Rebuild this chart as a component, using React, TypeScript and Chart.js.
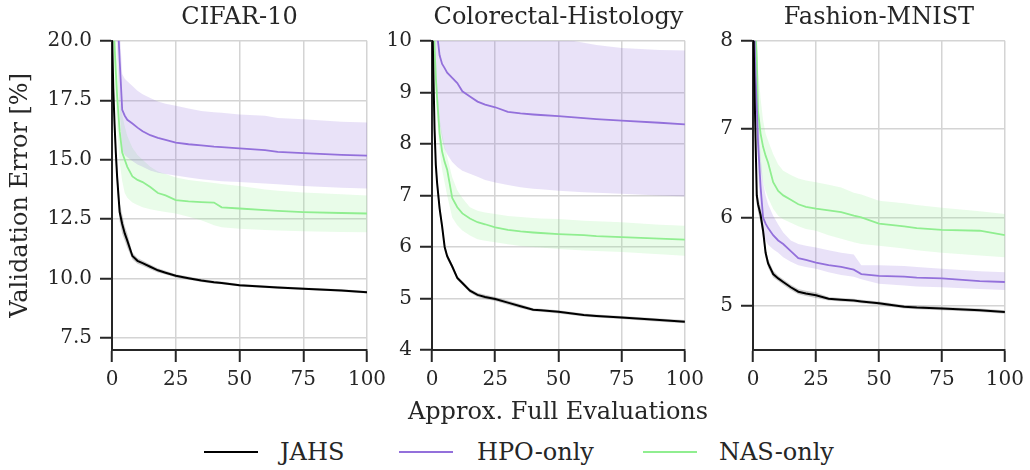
import React, { useEffect, useRef } from 'react';
import { Chart, registerables } from 'chart.js';

Chart.register(...registerables);

// ---------- data ----------
const X = [0, 0.5, 1, 1.5, 2, 3, 4, 5, 6, 8, 10, 12, 15, 18, 21, 25, 30, 35, 40, 43, 50, 60, 65, 75, 90, 100];
const X_TICKS = [0, 25, 50, 75, 100];

// CIFAR-10
const C_JAHS = [20.5, 18.0, 16.5, 15.3, 14.3, 12.8, 12.3, 11.9, 11.6, 10.95, 10.75, 10.65, 10.5, 10.35, 10.25, 10.12, 10.02, 9.92, 9.85, 9.82, 9.72, 9.66, 9.63, 9.58, 9.5, 9.43];
const C_JAHS_LO = [20.2, 17.6, 16.0, 14.8, 13.8, 12.4, 11.9, 11.6, 11.3, 10.8, 10.63, 10.54, 10.4, 10.26, 10.17, 10.05, 9.95, 9.86, 9.79, 9.76, 9.67, 9.61, 9.58, 9.53, 9.45, 9.38];
const C_JAHS_HI = [20.8, 18.4, 17.0, 15.8, 14.8, 13.2, 12.7, 12.2, 11.9, 11.1, 10.87, 10.76, 10.6, 10.44, 10.33, 10.19, 10.09, 9.98, 9.91, 9.88, 9.77, 9.71, 9.68, 9.63, 9.55, 9.48];
const C_HPO = [24, 24, 24, 23.5, 21.5, 19.2, 17.1, 16.85, 16.68, 16.52, 16.35, 16.2, 16.03, 15.92, 15.83, 15.72, 15.65, 15.6, 15.55, 15.53, 15.48, 15.4, 15.33, 15.28, 15.2, 15.17];
const C_HPO_LO = [22, 22, 22, 21, 19.5, 17, 15.4, 15.2, 15.1, 14.95, 14.8, 14.7, 14.55, 14.45, 14.4, 14.34, 14.25, 14.18, 14.13, 14.1, 14.06, 14.0, 13.97, 13.9, 13.82, 13.79];
const C_HPO_HI = [26, 26, 26, 25, 23, 20.5, 18.6, 18.4, 18.3, 18.1, 17.9, 17.75, 17.6, 17.45, 17.35, 17.27, 17.15, 17.05, 17.0, 16.97, 16.9, 16.85, 16.75, 16.7, 16.6, 16.56];
const C_NAS = [22, 21, 19.8, 18.7, 17.7, 16.2, 15.3, 15.0, 14.7, 14.3, 14.15, 14.06, 13.85, 13.6, 13.5, 13.3, 13.25, 13.22, 13.2, 13.0, 12.95, 12.88, 12.85, 12.8, 12.76, 12.74];
const C_NAS_LO = [21, 20, 18.6, 17.4, 16.4, 14.9, 14.1, 13.6, 13.4, 13.2, 13.1, 13.0, 12.92, 12.85, 12.8, 12.74, 12.6, 12.45, 12.25, 12.16, 12.1, 12.05, 12.02, 11.99, 11.96, 11.95];
const C_NAS_HI = [23, 22, 21, 20, 19, 17.6, 16.9, 16.4, 16.0, 15.5, 15.2, 15.0, 14.7, 14.5, 14.4, 14.25, 14.15, 14.08, 14.02, 13.98, 13.9, 13.75, 13.7, 13.62, 13.55, 13.5];
const C_Y_TICKS = [7.5, 10, 12.5, 15, 17.5, 20];

// Colorectal-Histology
const H_JAHS = [10.8, 9.5, 8.3, 7.6, 7.25, 6.75, 6.4, 6.0, 5.82, 5.62, 5.4, 5.3, 5.15, 5.07, 5.03, 4.99, 4.92, 4.85, 4.78, 4.77, 4.74, 4.68, 4.66, 4.63, 4.58, 4.55];
const H_JAHS_LO = [10.6, 9.3, 8.1, 7.45, 7.1, 6.62, 6.3, 5.92, 5.76, 5.57, 5.36, 5.26, 5.11, 5.03, 4.99, 4.95, 4.88, 4.81, 4.75, 4.74, 4.71, 4.65, 4.63, 4.6, 4.55, 4.52];
const H_JAHS_HI = [11.0, 9.7, 8.5, 7.75, 7.4, 6.88, 6.5, 6.08, 5.88, 5.67, 5.44, 5.34, 5.19, 5.11, 5.07, 5.03, 4.96, 4.89, 4.81, 4.8, 4.77, 4.71, 4.69, 4.66, 4.61, 4.58];
const H_HPO = [12, 12, 11.5, 10.8, 10.15, 9.72, 9.55, 9.47, 9.38, 9.28, 9.18, 9.02, 8.92, 8.82, 8.76, 8.71, 8.62, 8.59, 8.57, 8.56, 8.54, 8.5, 8.48, 8.45, 8.41, 8.38];
const H_HPO_LO = [11, 10.5, 10, 9.5, 9.0, 8.4, 8.1, 7.9, 7.8, 7.65, 7.55, 7.48, 7.42, 7.36, 7.3, 7.25, 7.2, 7.16, 7.13, 7.12, 7.09, 7.06, 7.05, 7.03, 7.0, 6.98];
const H_HPO_HI = [13, 13, 13, 13, 13, 13, 13, 13, 12, 11.5, 11.2, 11.0, 10.8, 10.6, 10.5, 10.4, 10.3, 10.22, 10.15, 10.12, 10.05, 9.96, 9.92, 9.86, 9.82, 9.81];
const H_NAS = [11.5, 10.8, 9.9, 9.3, 8.9, 8.2, 7.85, 7.65, 7.5, 6.95, 6.77, 6.65, 6.55, 6.48, 6.44, 6.38, 6.33, 6.3, 6.28, 6.27, 6.25, 6.23, 6.21, 6.19, 6.16, 6.14];
const H_NAS_LO = [11, 10.3, 9.5, 8.9, 8.5, 7.85, 7.5, 7.25, 7.0, 6.57, 6.42, 6.32, 6.22, 6.15, 6.12, 6.09, 6.05, 6.02, 6.0, 5.99, 5.96, 5.93, 5.92, 5.9, 5.86, 5.83];
const H_NAS_HI = [12, 11.2, 10.3, 9.7, 9.2, 8.5, 8.2, 7.95, 7.75, 7.35, 7.1, 6.95, 6.77, 6.7, 6.67, 6.64, 6.6, 6.58, 6.56, 6.55, 6.54, 6.51, 6.5, 6.48, 6.43, 6.41];
const H_Y_TICKS = [4, 5, 6, 7, 8, 9, 10];

// Fashion-MNIST
const F_JAHS = [8.5, 7.6, 6.9, 6.25, 6.15, 6.03, 5.85, 5.6, 5.48, 5.36, 5.31, 5.27, 5.21, 5.16, 5.14, 5.12, 5.08, 5.07, 5.06, 5.05, 5.03, 4.99, 4.98, 4.97, 4.95, 4.93];
const F_JAHS_LO = [8.3, 7.4, 6.75, 6.15, 6.06, 5.95, 5.77, 5.54, 5.43, 5.32, 5.28, 5.24, 5.18, 5.13, 5.11, 5.09, 5.06, 5.05, 5.04, 5.03, 5.01, 4.97, 4.96, 4.95, 4.93, 4.91];
const F_JAHS_HI = [8.7, 7.8, 7.05, 6.35, 6.24, 6.11, 5.93, 5.66, 5.53, 5.4, 5.34, 5.3, 5.24, 5.19, 5.17, 5.15, 5.1, 5.09, 5.08, 5.07, 5.05, 5.01, 5.0, 4.99, 4.97, 4.95];
const F_HPO = [8.8, 8.2, 7.6, 7.25, 6.85, 6.35, 6.0, 5.93, 5.88, 5.8, 5.74, 5.7, 5.62, 5.54, 5.52, 5.49, 5.46, 5.44, 5.41, 5.36, 5.34, 5.33, 5.32, 5.31, 5.28, 5.27];
const F_HPO_LO = [8.4, 7.8, 7.2, 6.9, 6.5, 6.05, 5.8, 5.74, 5.69, 5.64, 5.6, 5.55, 5.5, 5.46, 5.44, 5.42, 5.38, 5.35, 5.33, 5.3, 5.25, 5.23, 5.22, 5.21, 5.19, 5.18];
const F_HPO_HI = [9.2, 8.6, 8.0, 7.6, 7.2, 6.7, 6.4, 6.25, 6.15, 6.02, 5.92, 5.83, 5.74, 5.7, 5.68, 5.66, 5.63, 5.6, 5.58, 5.46, 5.46, 5.45, 5.44, 5.42, 5.39, 5.38];
const F_NAS = [9.0, 8.6, 8.1, 7.8, 7.2, 6.95, 6.8, 6.7, 6.62, 6.4, 6.3, 6.25, 6.2, 6.15, 6.12, 6.1, 6.08, 6.06, 6.02, 6.0, 5.93, 5.9, 5.88, 5.86, 5.85, 5.8];
const F_NAS_LO = [8.7, 8.2, 7.6, 7.3, 6.8, 6.55, 6.4, 6.3, 6.22, 6.1, 6.02, 5.98, 5.94, 5.9, 5.87, 5.85, 5.8, 5.76, 5.72, 5.7, 5.68, 5.65, 5.63, 5.6, 5.57, 5.55];
const F_NAS_HI = [9.3, 9.0, 8.6, 8.2, 7.7, 7.35, 7.1, 6.95, 6.87, 6.72, 6.6, 6.53, 6.48, 6.44, 6.42, 6.4, 6.37, 6.34, 6.28, 6.26, 6.19, 6.16, 6.14, 6.11, 6.07, 6.04];
const F_Y_TICKS = [5, 6, 7, 8];

const SERIES_NAMES = ['JAHS', 'HPO-only', 'NAS-only'];

// ---------- styles ----------
const FONT = "'DejaVu Serif', serif";
const INK = '#262626';
const GRID = '#d4d4d4';
const LINE_COLORS = ['#000000', '#9370db', '#90ee90'];
const BAND_COLORS = ['rgba(0,0,0,0.2)', 'rgba(147,112,219,0.2)', 'rgba(144,238,144,0.2)'];

type Series = { mean: number[]; lo: number[]; hi: number[] };
type PanelCfg = {
  title: string;
  left: number;
  width: number;
  yWidth: number;
  padRight: number;
  yMin: number;
  yMax: number;
  yTicks: number[];
  decimals: number;
  yTitle: boolean;
  series: Series[];
};

const PANELS: PanelCfg[] = [
  {
    title: 'CIFAR-10', left: 0, width: 395, yWidth: 112, padRight: 28,
    yMin: 7, yMax: 20, yTicks: C_Y_TICKS, decimals: 1, yTitle: true,
    series: [
      { mean: C_JAHS, lo: C_JAHS_LO, hi: C_JAHS_HI },
      { mean: C_HPO, lo: C_HPO_LO, hi: C_HPO_HI },
      { mean: C_NAS, lo: C_NAS_LO, hi: C_NAS_HI },
    ],
  },
  {
    title: 'Colorectal-Histology', left: 380, width: 330, yWidth: 52, padRight: 23,
    yMin: 4, yMax: 10, yTicks: H_Y_TICKS, decimals: 0, yTitle: false,
    series: [
      { mean: H_JAHS, lo: H_JAHS_LO, hi: H_JAHS_HI },
      { mean: H_HPO, lo: H_HPO_LO, hi: H_HPO_HI },
      { mean: H_NAS, lo: H_NAS_LO, hi: H_NAS_HI },
    ],
  },
  {
    title: 'Fashion-MNIST', left: 700, width: 330, yWidth: 53, padRight: 22,
    yMin: 4.5, yMax: 8, yTicks: F_Y_TICKS, decimals: 0, yTitle: false,
    series: [
      { mean: F_JAHS, lo: F_JAHS_LO, hi: F_JAHS_HI },
      { mean: F_HPO, lo: F_HPO_LO, hi: F_HPO_HI },
      { mean: F_NAS, lo: F_NAS_LO, hi: F_NAS_HI },
    ],
  },
];

const pts = (ys: number[]) => X.map((x, i) => ({ x, y: ys[i] }));

function Panel({ cfg }: { cfg: PanelCfg }) {
  const ref = useRef<HTMLCanvasElement | null>(null);
  useEffect(() => {
    if (!ref.current) return;
    const datasets: any[] = [];
    cfg.series.forEach((s, i) => {
      datasets.push({
        label: SERIES_NAMES[i],
        data: pts(s.mean),
        borderColor: LINE_COLORS[i],
        borderWidth: i === 0 ? 2 : 1.8,
        pointRadius: 0,
        tension: 0,
        fill: false,
      });
    });
    cfg.series.forEach((s, i) => {
      datasets.push({
        label: SERIES_NAMES[i] + ' lo',
        data: pts(s.lo),
        borderColor: 'rgba(0,0,0,0)',
        borderWidth: 0,
        pointRadius: 0,
        fill: false,
      });
      datasets.push({
        label: SERIES_NAMES[i] + ' hi',
        data: pts(s.hi),
        borderColor: 'rgba(0,0,0,0)',
        borderWidth: 0,
        pointRadius: 0,
        backgroundColor: BAND_COLORS[i],
        fill: '-1',
      });
    });
    const chart = new Chart(ref.current, {
      type: 'line',
      data: { datasets },
      options: {
        animation: false,
        responsive: false,
        events: [],
        layout: { padding: { left: 0, right: cfg.padRight, top: 0, bottom: 0 } },
        plugins: {
          legend: { display: false },
          tooltip: { enabled: false },
          filler: { drawTime: 'beforeDatasetsDraw' },
          title: {
            display: true,
            text: cfg.title,
            fullSize: false,
            color: INK,
            font: { family: FONT, size: 24, weight: 'normal' },
            padding: { top: 3, bottom: 9 },
          },
        } as any,
        scales: {
          x: {
            type: 'linear',
            min: 0,
            max: 100,
            afterBuildTicks: (s: any) => { s.ticks = X_TICKS.map((v) => ({ value: v })); },
            afterFit: (s: any) => { s.height = 50; },
            ticks: { color: INK, font: { family: FONT, size: 20 }, padding: 6, maxRotation: 0 },
            grid: { color: GRID, lineWidth: 1.5, tickLength: 12, tickColor: INK, tickWidth: 2 },
            border: { color: INK, width: 2 },
          },
          y: {
            type: 'linear',
            min: cfg.yMin,
            max: cfg.yMax,
            afterBuildTicks: (s: any) => { s.ticks = cfg.yTicks.map((v) => ({ value: v })); },
            afterFit: (s: any) => { s.width = cfg.yWidth; },
            ticks: {
              color: INK,
              font: { family: FONT, size: 20 },
              padding: 8,
              callback: (v: any) => Number(v).toFixed(cfg.decimals),
            },
            grid: { color: GRID, lineWidth: 1.5, tickLength: 12, tickColor: INK, tickWidth: 2 },
            border: { color: INK, width: 2 },
            title: {
              display: cfg.yTitle,
              text: 'Validation Error [%]',
              color: INK,
              font: { family: FONT, size: 24, weight: 'normal' },
              padding: { top: 6, bottom: 0 },
            },
          },
        },
      } as any,
    });
    return () => chart.destroy();
  }, [cfg]);
  return (
    <canvas
      ref={ref}
      width={cfg.width}
      height={400}
      style={{ position: 'absolute', left: cfg.left, top: 0, width: cfg.width, height: 400 }}
    />
  );
}

const LEGEND_POS = [
  { line: 204, text: 280 },
  { line: 399, text: 477 },
  { line: 643, text: 719 },
];

export default function App() {
  return (
    <div style={{ position: 'absolute', left: 0, top: 0, width: 1030, height: 470, background: '#fff', overflow: 'hidden', fontFamily: FONT, color: INK }}>
      {PANELS.map((p) => <Panel key={p.title} cfg={p} />)}
      <div style={{ position: 'absolute', left: 358, top: 396, width: 400, textAlign: 'center', fontSize: 24, lineHeight: '30px', whiteSpace: 'nowrap' }}>
        Approx. Full Evaluations
      </div>
      {SERIES_NAMES.map((name, i) => (
        <React.Fragment key={name}>
          <div style={{ position: 'absolute', left: LEGEND_POS[i].line, top: 451, width: 54, height: 2.2, background: LINE_COLORS[i] }} />
          <div style={{ position: 'absolute', left: LEGEND_POS[i].text, top: 437, fontSize: 24, lineHeight: '30px', whiteSpace: 'nowrap' }}>{name}</div>
        </React.Fragment>
      ))}
    </div>
  );
}
